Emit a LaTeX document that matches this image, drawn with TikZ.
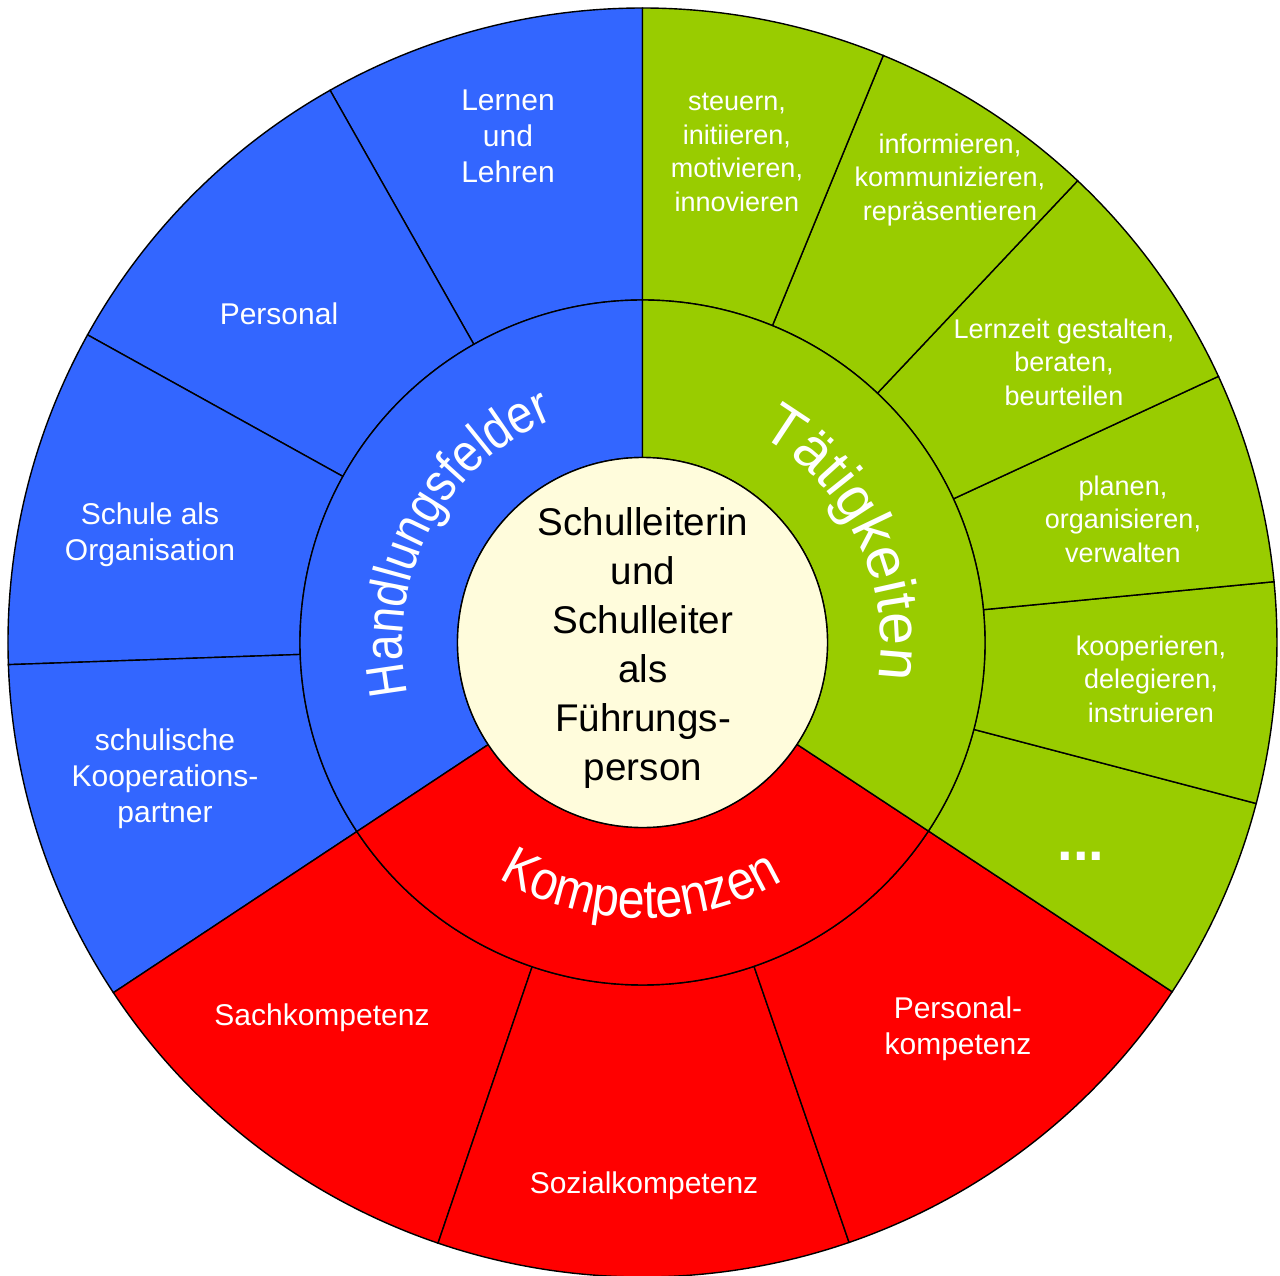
\documentclass[tikz,border=0pt]{standalone}
\usepackage{fontspec}
\setmainfont{Liberation Sans}
\newfontfamily\hfont[FakeStretch=0.86]{Liberation Sans}
\newfontfamily\tfont{Liberation Sans}
\newfontfamily\kfont[FakeStretch=0.88]{Liberation Sans}
\usetikzlibrary{decorations.text}
\definecolor{feldblau}{HTML}{3366FF}
\definecolor{taetgruen}{HTML}{99CC00}
\definecolor{kompetrot}{HTML}{FF0000}
\definecolor{mitte}{HTML}{FFFCDC}
\tikzset{every picture/.style={line width=1.4pt}}
% annular sector: colour, inner r, outer r, start angle, end angle
\newcommand{\ringseg}[5]{%
  \filldraw[fill=#1] (#4:#2) -- (#4:#3) arc[start angle=#4, end angle=#5, radius=#3] -- (#5:#2) arc[start angle=#5, end angle=#4, radius=#2] -- cycle;}

\begin{document}
\begin{tikzpicture}[x=1pt,y=1pt,
  aussen/.style={text=white, align=center, font=\fontsize{30}{36}\selectfont},
  gruen/.style={text=white, align=center, font=\fontsize{27}{33.5}\selectfont},
  kern/.style={text=black, align=center, font=\fontsize{38.6}{49}\selectfont}]
	\useasboundingbox (-642.5,-632.5) rectangle (637.5,642.5);
	
	%Outer ring: Handlungsfelder
	\ringseg{feldblau}{342.5}{634.5}{90}{119.5}
	\ringseg{feldblau}{342.5}{634.5}{119.5}{151}
	\ringseg{feldblau}{342.5}{634.5}{151}{182}
	\ringseg{feldblau}{342.5}{634.5}{182}{213.5}
	%Outer ring: Kompetenzen
	\ringseg{kompetrot}{342.5}{634.5}{213.5}{251.2}
	\ringseg{kompetrot}{342.5}{634.5}{251.2}{289}
	\ringseg{kompetrot}{342.5}{634.5}{289}{326.6}
	%Outer ring: Taetigkeiten
	\ringseg{taetgruen}{342.5}{634.5}{-33.4}{-14.7}
	\ringseg{taetgruen}{342.5}{634.5}{-14.7}{5.5}
	\ringseg{taetgruen}{342.5}{634.5}{5.5}{24.8}
	\ringseg{taetgruen}{342.5}{634.5}{24.8}{46.7}
	\ringseg{taetgruen}{342.5}{634.5}{46.7}{67.7}
	\ringseg{taetgruen}{342.5}{634.5}{67.7}{90}
	
	%Middle ring
	\ringseg{feldblau}{185}{342.5}{90}{213.5}
	\ringseg{kompetrot}{185}{342.5}{213.5}{326.6}
	\ringseg{taetgruen}{185}{342.5}{-33.4}{90}
	
	%Centre
	\filldraw[fill=mitte] (0,0) circle[radius=185];
	
	%Curved ring titles
	\path[decorate, decoration={text along path, text align=center,
	  text={|\hfont\fontsize{54}{54}\selectfont\color{white}|Handlungsfelder}}]
	  (202:240) arc[start angle=202, end angle=102, radius=240];
	\path[decorate, decoration={text along path, text align=center,
	  text={|\tfont\fontsize{59}{59}\selectfont\color{white}|Tätigkeiten}}]
	  (71:238) arc[start angle=71, end angle=-19, radius=238];
	\path[decorate, decoration={text along path, text align=center,
	  text={|\kfont\fontsize{55}{55}\selectfont\color{white}|Kompetenzen}}]
	  (224.5:276) arc[start angle=224.5, end angle=314.5, radius=276];
	
	% Text Node
	\node[kern] (person) at (0.5,-5.5) {Schulleiterin\\und\\Schulleiter\\als\\Führungs-\\person};
	% Text Node
	\node[aussen] (lernen) at (-134.5,506.5) {Lernen\\und\\Lehren};
	% Text Node
	\node[aussen] (personal) at (-363.5,328.5) {Personal};
	% Text Node
	\node[aussen] (schule) at (-492.5,107.5) {Schule als\\Organisation};
	% Text Node
	\node[aussen] (partner) at (-477.5,-136.5) {schulische\\Kooperations-\\partner};
	% Text Node
	\node[aussen] (sach) at (-320.5,-375.5) {Sachkompetenz};
	% Text Node
	\node[aussen] (sozial) at (1.5,-543.5) {Sozialkompetenz};
	% Text Node
	\node[aussen] (perskomp) at (315.5,-386.5) {Personal-\\kompetenz};
	% Text Node
	\node[gruen] (steuern) at (94.5,490) {steuern,\\initiieren,\\motivieren,\\innovieren};
	% Text Node
	\node[gruen] (informieren) at (307.5,462.5) {informieren,\\kommunizieren,\\repräsentieren};
	% Text Node
	\node[gruen] (lernzeit) at (421.5,280.5) {Lernzeit gestalten,\\beraten,\\beurteilen};
	% Text Node
	\node[gruen] (planen) at (480.5,123.5) {planen,\\organisieren,\\verwalten};
	% Text Node
	\node[gruen] (kooperieren) at (508.5,-36.5) {kooperieren,\\delegieren,\\instruieren};
	% Text Node
	\node[text=white, anchor=base, font=\fontsize{56}{56}\selectfont\bfseries] (weitere) at (438.5,-217.5) {...};
	
\end{tikzpicture}
\end{document}
